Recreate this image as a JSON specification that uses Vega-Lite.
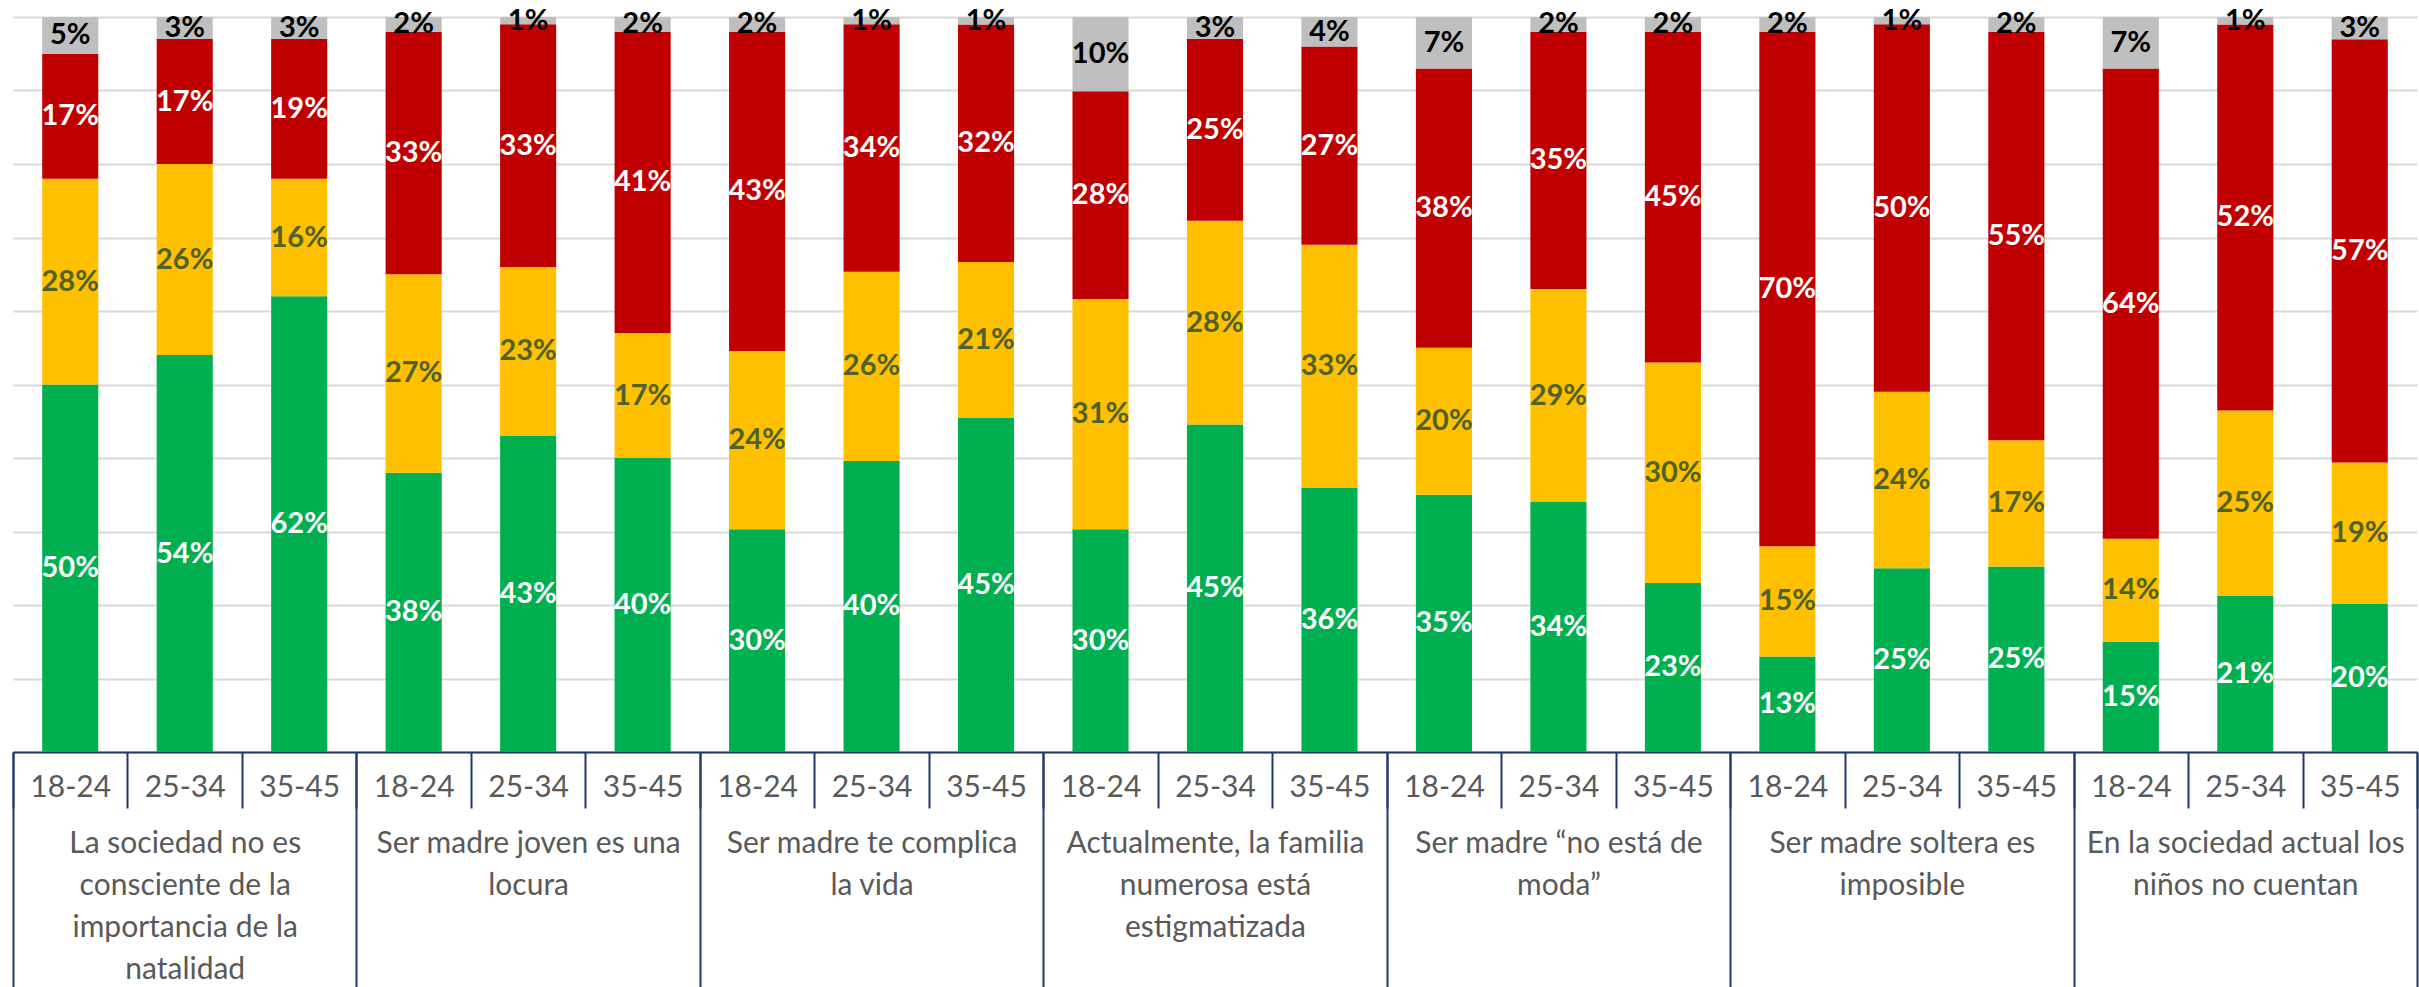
{
  "$schema": "https://vega.github.io/schema/vega-lite/v6.json",
  "width": 2404,
  "height": 735,
  "autosize": {"type": "none"},
  "padding": {"left": 13, "top": 17, "right": 2, "bottom": 235},
  "background": "white",
  "config": {"view": {"stroke": null}, "font": "Lato"},
  "data": {
    "values": [
      {"pregunta": "La sociedad no es consciente de la importancia de la natalidad", "edad": "18-24", "barra": "1 18-24", "acuerdo": 0.50, "neutral": 0.28, "desacuerdo": 0.17, "nsnc": 0.05},
      {"pregunta": "La sociedad no es consciente de la importancia de la natalidad", "edad": "25-34", "barra": "1 25-34", "acuerdo": 0.54, "neutral": 0.26, "desacuerdo": 0.17, "nsnc": 0.03},
      {"pregunta": "La sociedad no es consciente de la importancia de la natalidad", "edad": "35-45", "barra": "1 35-45", "acuerdo": 0.62, "neutral": 0.16, "desacuerdo": 0.19, "nsnc": 0.03},
      {"pregunta": "Ser madre joven es una locura", "edad": "18-24", "barra": "2 18-24", "acuerdo": 0.38, "neutral": 0.27, "desacuerdo": 0.33, "nsnc": 0.02},
      {"pregunta": "Ser madre joven es una locura", "edad": "25-34", "barra": "2 25-34", "acuerdo": 0.43, "neutral": 0.23, "desacuerdo": 0.33, "nsnc": 0.01},
      {"pregunta": "Ser madre joven es una locura", "edad": "35-45", "barra": "2 35-45", "acuerdo": 0.40, "neutral": 0.17, "desacuerdo": 0.41, "nsnc": 0.02},
      {"pregunta": "Ser madre te complica la vida", "edad": "18-24", "barra": "3 18-24", "acuerdo": 0.30, "neutral": 0.24, "desacuerdo": 0.43, "nsnc": 0.02},
      {"pregunta": "Ser madre te complica la vida", "edad": "25-34", "barra": "3 25-34", "acuerdo": 0.40, "neutral": 0.26, "desacuerdo": 0.34, "nsnc": 0.01},
      {"pregunta": "Ser madre te complica la vida", "edad": "35-45", "barra": "3 35-45", "acuerdo": 0.45, "neutral": 0.21, "desacuerdo": 0.32, "nsnc": 0.01},
      {"pregunta": "Actualmente, la familia numerosa está estigmatizada", "edad": "18-24", "barra": "4 18-24", "acuerdo": 0.30, "neutral": 0.31, "desacuerdo": 0.28, "nsnc": 0.10},
      {"pregunta": "Actualmente, la familia numerosa está estigmatizada", "edad": "25-34", "barra": "4 25-34", "acuerdo": 0.45, "neutral": 0.28, "desacuerdo": 0.25, "nsnc": 0.03},
      {"pregunta": "Actualmente, la familia numerosa está estigmatizada", "edad": "35-45", "barra": "4 35-45", "acuerdo": 0.36, "neutral": 0.33, "desacuerdo": 0.27, "nsnc": 0.04},
      {"pregunta": "Ser madre “no está de moda”", "edad": "18-24", "barra": "5 18-24", "acuerdo": 0.35, "neutral": 0.20, "desacuerdo": 0.38, "nsnc": 0.07},
      {"pregunta": "Ser madre “no está de moda”", "edad": "25-34", "barra": "5 25-34", "acuerdo": 0.34, "neutral": 0.29, "desacuerdo": 0.35, "nsnc": 0.02},
      {"pregunta": "Ser madre “no está de moda”", "edad": "35-45", "barra": "5 35-45", "acuerdo": 0.23, "neutral": 0.30, "desacuerdo": 0.45, "nsnc": 0.02},
      {"pregunta": "Ser madre soltera es imposible", "edad": "18-24", "barra": "6 18-24", "acuerdo": 0.13, "neutral": 0.15, "desacuerdo": 0.70, "nsnc": 0.02},
      {"pregunta": "Ser madre soltera es imposible", "edad": "25-34", "barra": "6 25-34", "acuerdo": 0.25, "neutral": 0.24, "desacuerdo": 0.50, "nsnc": 0.01},
      {"pregunta": "Ser madre soltera es imposible", "edad": "35-45", "barra": "6 35-45", "acuerdo": 0.25, "neutral": 0.17, "desacuerdo": 0.55, "nsnc": 0.02},
      {"pregunta": "En la sociedad actual los niños no cuentan", "edad": "18-24", "barra": "7 18-24", "acuerdo": 0.15, "neutral": 0.14, "desacuerdo": 0.64, "nsnc": 0.07},
      {"pregunta": "En la sociedad actual los niños no cuentan", "edad": "25-34", "barra": "7 25-34", "acuerdo": 0.21, "neutral": 0.25, "desacuerdo": 0.52, "nsnc": 0.01},
      {"pregunta": "En la sociedad actual los niños no cuentan", "edad": "35-45", "barra": "7 35-45", "acuerdo": 0.20, "neutral": 0.19, "desacuerdo": 0.57, "nsnc": 0.03}
    ]
  },
  "transform": [
    {"fold": ["acuerdo", "neutral", "desacuerdo", "nsnc"], "as": ["respuesta", "valor"]},
    {"window": [{"op": "row_number", "as": "orden"}], "groupby": ["barra"]}
  ],
  "layer": [
    {
      "mark": {"type": "bar", "width": {"band": 0.49}},
      "encoding": {
        "x": {
          "field": "barra", "type": "nominal", "sort": null,
          "scale": {"paddingInner": 0, "paddingOuter": 0},
          "axis": {
            "orient": "bottom", "title": null,
            "labelExpr": "isValid(datum.value) ? substring(datum.value, 2) : ''",
            "tickBand": "extent", "tickSize": 56, "tickColor": "#1F3864", "tickWidth": 2,
            "domainColor": "#1F3864", "domainWidth": 2,
            "labelPadding": -21, "labelBaseline": "middle", "labelFontSize": 30,
            "labelFont": "Lato", "labelColor": "#595959", "labelAngle": 0,
            "labelFlush": false, "labelOverlap": false, "grid": false
          }
        },
        "y": {
          "field": "valor", "type": "quantitative", "stack": "normalize",
          "scale": {"domain": [0, 1]},
          "axis": {
            "title": null, "labels": false, "ticks": false, "domain": false,
            "grid": true, "gridColor": "#D9D9D9", "gridWidth": 2,
            "values": [0, 0.1, 0.2, 0.3, 0.4, 0.5, 0.6, 0.7, 0.8, 0.9, 1]
          }
        },
        "order": {"field": "orden", "type": "quantitative", "sort": "ascending"},
        "color": {
          "field": "respuesta", "type": "nominal",
          "scale": {"domain": ["acuerdo", "neutral", "desacuerdo", "nsnc"], "range": ["#00B050", "#FFC000", "#C00000", "#BFBFBF"]},
          "legend": null
        }
      }
    },
    {
      "mark": {"type": "text", "font": "Lato", "fontWeight": "bold", "fontSize": 29, "baseline": "middle"},
      "encoding": {
        "x": {"field": "barra", "type": "nominal", "sort": null, "scale": {"paddingInner": 0, "paddingOuter": 0}, "axis": null},
        "y": {"field": "valor", "type": "quantitative", "stack": "normalize", "bandPosition": 0.5},
        "order": {"field": "orden", "type": "quantitative", "sort": "ascending"},
        "text": {"field": "valor", "type": "quantitative", "format": ".0%"},
        "color": {
          "field": "respuesta", "type": "nominal",
          "scale": {"domain": ["acuerdo", "neutral", "desacuerdo", "nsnc"], "range": ["#FFFFFF", "#4F6228", "#FFFFFF", "#000000"]},
          "legend": null
        }
      }
    },
    {
      "mark": {"type": "bar", "opacity": 0},
      "encoding": {
        "x": {
          "field": "pregunta", "type": "nominal", "sort": null,
          "scale": {"paddingInner": 0, "paddingOuter": 0},
          "axis": {
            "orient": "bottom", "title": null, "domain": false,
            "tickBand": "extent", "tickSize": 235, "tickColor": "#1F3864", "tickWidth": 2,
            "labelPadding": -159, "labelBaseline": "top", "labelLineHeight": 42,
            "labelFontSize": 30, "labelFont": "Lato", "labelColor": "#595959", "labelAngle": 0,
            "labelLimit": 0, "labelFlush": false, "labelOverlap": false, "grid": false,
            "labelExpr": "datum.value == 'La sociedad no es consciente de la importancia de la natalidad' ? ['La sociedad no es', 'consciente de la', 'importancia de la', 'natalidad'] : datum.value == 'Ser madre joven es una locura' ? ['Ser madre joven es una', 'locura'] : datum.value == 'Ser madre te complica la vida' ? ['Ser madre te complica', 'la vida'] : datum.value == 'Actualmente, la familia numerosa está estigmatizada' ? ['Actualmente, la familia', 'numerosa está', 'estigmatizada'] : datum.value == 'Ser madre “no está de moda”' ? ['Ser madre “no está de', 'moda”'] : datum.value == 'Ser madre soltera es imposible' ? ['Ser madre soltera es', 'imposible'] : datum.value == 'En la sociedad actual los niños no cuentan' ? ['En la sociedad actual los', 'niños no cuentan'] : ''"
          }
        }
      }
    }
  ],
  "resolve": {"scale": {"color": "independent", "x": "independent"}, "axis": {"x": "independent"}}
}
